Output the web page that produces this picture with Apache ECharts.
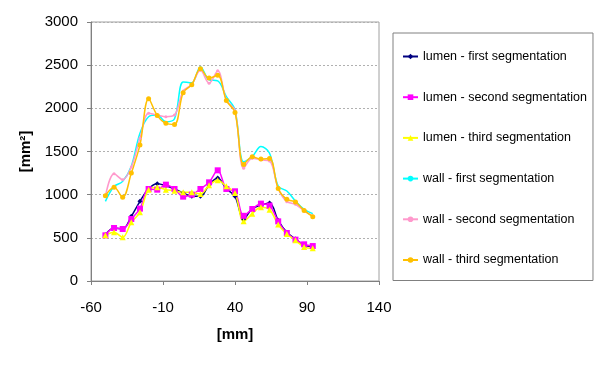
<!DOCTYPE html>
<html>
<head>
<meta charset="utf-8">
<script src="https://cdn.jsdelivr.net/npm/echarts@6/dist/echarts.min.js"></script>
<style>
    html, body { margin: 0; padding: 0; background: #fff; }
    #main { width: 600px; height: 369px; }
</style>
</head>
<body>
<div id="main"></div>
<script>
// 横坐标 (mm)
const xs = [-50, -44, -38, -32, -26, -20, -14, -8, -2, 4, 10, 16, 22, 28, 34, 40, 46, 52, 58, 64, 70, 76, 82, 88, 94]
const names = ['lumen - first segmentation', 'lumen - second segmentation', 'lumen - third segmentation',
    'wall - first segmentation', 'wall - second segmentation', 'wall - third segmentation']
const lumen1 = [537, 614, 602, 749, 923, 1069, 1127, 1104, 1066, 1019, 981, 981, 1116, 1193, 1066, 981, 715, 838, 876, 903, 703, 564, 486, 417, 398]
const lumen2 = [529, 614, 602, 718, 838, 1066, 1058, 1116, 1066, 977, 1000, 1066, 1143, 1282, 1066, 1039, 755, 834, 896, 873, 691, 556, 479, 425, 405]
const lumen3 = [529, 564, 506, 680, 795, 1058, 1085, 1058, 1046, 1027, 1027, 1008, 1108, 1166, 1097, 1019, 691, 780, 853, 826, 653, 544, 471, 394, 378]
const wall1 = [923, 1095, 1154, 1330, 1711, 1903, 1922, 1845, 1880, 2305, 2295, 2482, 2330, 2318, 2136, 1981, 1380, 1441, 1557, 1480, 1100, 1042, 926, 830, 780]
const wall2 = [981, 1243, 1174, 1320, 1653, 1942, 1922, 1903, 1922, 2200, 2277, 2440, 2291, 2434, 2097, 1973, 1306, 1422, 1403, 1391, 1070, 919, 888, 811, 753]
const wall3 = [988, 1085, 969, 1250, 1576, 2112, 1918, 1826, 1814, 2181, 2274, 2459, 2350, 2382, 2090, 1953, 1350, 1440, 1412, 1420, 1072, 946, 915, 818, 745]

const colors = ['#000080', '#ff00ff', '#ffff00', '#00ffff', '#ff99cc', '#ffc000']
const symbols = ['diamond', 'rect', 'triangle', 'none', 'circle', 'circle']
const symbolSizes = [5, 6, 6, 0, 3, 5]
const values = [lumen1, lumen2, lumen3, wall1, wall2, wall3]

function chart() {
    const myChart = echarts.init(document.getElementById('main'))
    const option = {
        animation: false,
        color: colors,
        textStyle: { fontFamily: 'Liberation Sans, Arial, sans-serif' },
        grid: {
            left: 91, right: 221, top: 22, bottom: 88,
            show: true,
            borderColor: '#a0a0a0',
            borderWidth: 1
        },
        legend: {
            orient: 'vertical',
            left: 393,
            top: 33,
            data: names,
            itemWidth: 15,
            itemHeight: 7,
            itemGap: 27.7,
            padding: [17, 6, 14, 9],
            borderColor: '#808080',
            borderWidth: 1,
            textStyle: { fontSize: 12.5, color: '#000' }
        },
        xAxis: {
            type: 'value',
            min: -60,
            max: 140,
            interval: 50,
            name: '[mm]',
            nameLocation: 'middle',
            nameGap: 46,
            nameTextStyle: { fontSize: 15, fontWeight: 'bold', color: '#000' },
            axisLine: { onZero: false, lineStyle: { color: '#808080' } },
            axisTick: { show: true, length: 4, lineStyle: { color: '#808080' } },
            axisLabel: { fontSize: 15, color: '#000', margin: 19 },
            splitLine: { show: false }
        },
        yAxis: {
            type: 'value',
            min: 0,
            max: 3000,
            interval: 500,
            name: '[mm²]',
            nameLocation: 'middle',
            nameGap: 58,
            nameTextStyle: { fontSize: 15, fontWeight: 'bold', color: '#000' },
            axisLine: { show: true, onZero: false, lineStyle: { color: '#808080' } },
            axisTick: { show: true, length: 4, lineStyle: { color: '#808080' } },
            axisLabel: { fontSize: 15, color: '#000', margin: 13, formatter: v => String(v) },
            splitLine: { lineStyle: { color: '#b0b0b0', type: [2, 2] } }
        },
        series: names.map((n, i) => ({
            name: n,
            type: 'line',
            smooth: 0.35,
            symbol: symbols[i],
            symbolSize: symbolSizes[i],
            showSymbol: symbols[i] !== 'none',
            lineStyle: { width: 1.5, color: colors[i] },
            itemStyle: { color: colors[i] },
            data: xs.map((x, k) => [x, values[i][k]])
        }))
    }
    myChart.setOption(option)
}
chart()
</script>
</body>
</html>
